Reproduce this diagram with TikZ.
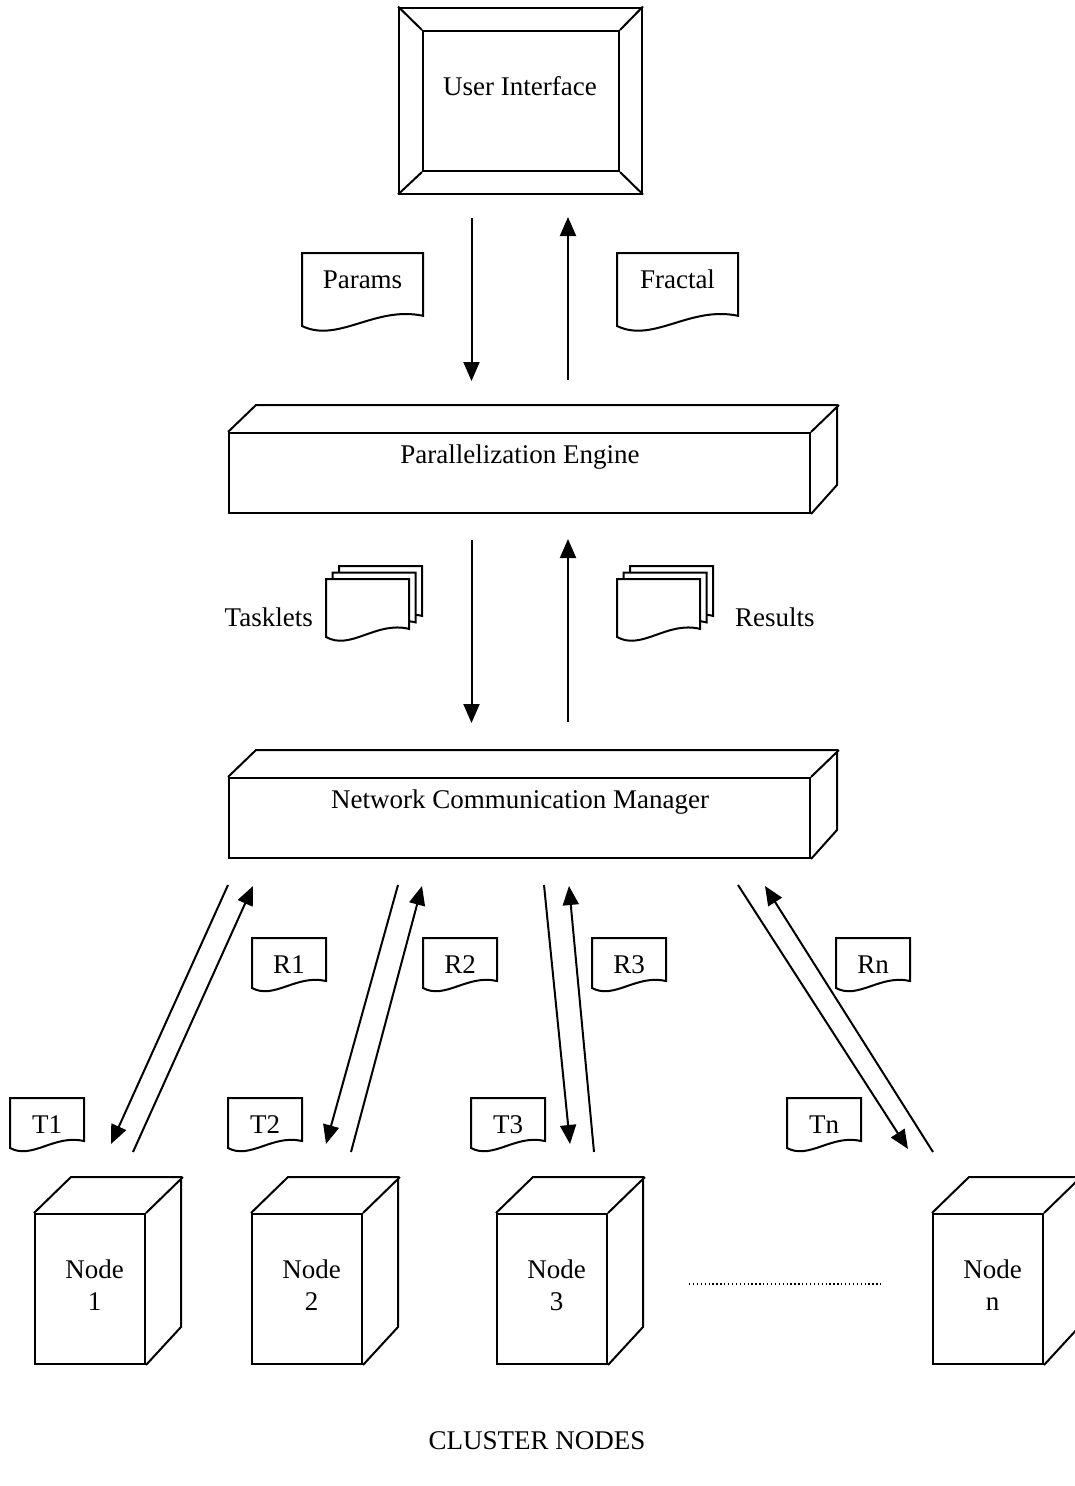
\documentclass[tikz,border=0pt]{standalone}
\usepackage{fontspec}
\setmainfont{Liberation Serif}
\usetikzlibrary{arrows.meta}
\tikzset{
  ln/.style={line width=2pt, line join=miter},
  box/.style={ln, draw, fill=white, inner sep=0pt, anchor=north west},
  lbl/.style={anchor=base, inner sep=0pt, font=\fontsize{27}{32}\selectfont},
  arr/.style={ln, -{Triangle[length=19pt,width=16pt]}},
  dotline/.style={line width=1.3pt, dash pattern=on 1.3pt off 2.6pt}
}
\newcommand\docum[6]{%
  \begin{scope}[shift={(#2,#3)}]
    \draw[ln, fill=white] (0,0) -- (#4,0) -- (#4,0.86*#5)
      .. controls (0.6*#4,0.72*#5) and (0.3*#4,1.24*#5) .. (0,#5) -- cycle;
  \end{scope}
  \ifx\relax#6\relax\else\node[lbl] (#1) at (#2+#4/2,#3+35) {#6};\fi
}
\newcommand\stackdoc[2]{%
  \docum{}{#1+13}{#2-13}{83}{58}{}%
  \docum{}{#1+6.5}{#2-6.5}{83}{58}{}%
  \docum{}{#1}{#2}{83}{58}{}%
}
\newcommand\cubenode[3]{%
  \node[box, minimum width=110, minimum height=150] (#1) at (#2,1213) {};
  \draw[ln] (#1.north west) -- ++(37,-36) -- ++(110,0) -- ++(0,150) -- (#1.south east);
  \draw[ln] (#1.north east) -- ++(37,-36);
  \node[lbl] (#1t) at (#2+60.5,1278) {Node};
  \node[lbl] (#1n) at (#2+60.5,1310) {#3};
}
\begin{document}
\begin{tikzpicture}[x=1pt,y=-1pt]
\useasboundingbox (0,0) rectangle (1074,1486);
\fill[white] (0,0) rectangle (1074,1486);

% User interface
\node[box, minimum width=243, minimum height=186] (ui) at (398,6.5) {};
\node[box, minimum width=196, minimum height=140] (uiin) at (422,30) {};
\draw[ln] (ui.north west) -- (uiin.north west);
\draw[ln] (ui.north east) -- (uiin.north east);
\draw[ln] (ui.south west) -- (uiin.south west);
\draw[ln] (ui.south east) -- (uiin.south east);
\node[lbl] (uit) at (520,95) {User Interface};

% documents Params / Fractal
\docum{params}{302}{253}{121}{73}{Params}
\docum{fractal}{617}{253}{121}{73}{Fractal}

% arrows UI <-> PE
\coordinate (p1) at (471.5,218); \coordinate (p2) at (471.5,381);
\coordinate (f1) at (568,380); \coordinate (f2) at (568,217);
\draw[arr] (p1) -- (p2);
\draw[arr] (f1) -- (f2);

% Parallelization engine
\node[box, minimum width=581, minimum height=80] (pe) at (228,432) {};
\draw[ln] (pe.north west) -- ++(28,-27) -- ++(581,0) -- ++(0,80) -- (pe.south east);
\draw[ln] (pe.north east) -- ++(28,-27);
\node[lbl] (pet) at (520,463) {Parallelization Engine};

% tasklets / results
\stackdoc{326}{579}
\node[lbl, anchor=base east] (tasklets) at (313,626) {Tasklets};
\stackdoc{617}{579}
\node[lbl, anchor=base west] (results) at (735,626) {Results};

\coordinate (t1) at (471.5,540); \coordinate (t2) at (471.5,723);
\coordinate (r1) at (568,722); \coordinate (r2) at (568,539);
\draw[arr] (t1) -- (t2);
\draw[arr] (r1) -- (r2);

% Network communication manager
\node[box, minimum width=581, minimum height=80] (ncm) at (228,777) {};
\draw[ln] (ncm.north west) -- ++(28,-27) -- ++(581,0) -- ++(0,80) -- (ncm.south east);
\draw[ln] (ncm.north east) -- ++(28,-27);
\node[lbl] (ncmt) at (520,808) {Network Communication Manager};

% R documents
\docum{rA}{252}{938}{74}{50}{R1}
\docum{rB}{423}{938}{74}{50}{R2}
\docum{rC}{592}{938}{74}{50}{R3}
\docum{rN}{836}{938}{74}{50}{Rn}
% T documents
\docum{tA}{10}{1098}{74}{50}{T1}
\docum{tB}{228}{1098}{74}{50}{T2}
\docum{tC}{471}{1098}{74}{50}{T3}
\docum{tN}{787}{1098}{74}{50}{Tn}

% arrows NCM <-> nodes
\coordinate (a1s) at (228,885); \coordinate (a1e) at (111,1144);
\coordinate (b1s) at (133,1152); \coordinate (b1e) at (253,886);
\coordinate (a2s) at (398,885); \coordinate (a2e) at (326,1144);
\coordinate (b2s) at (351,1152); \coordinate (b2e) at (422,886);
\coordinate (a3s) at (544,885); \coordinate (a3e) at (570,1144);
\coordinate (b3s) at (594,1152); \coordinate (b3e) at (569,886);
\coordinate (a4s) at (738,885); \coordinate (a4e) at (908,1149);
\coordinate (b4s) at (933,1152); \coordinate (b4e) at (765,886);
\foreach \i in {1,2,3,4}{
  \draw[arr] (a\i s) -- (a\i e);
  \draw[arr] (b\i s) -- (b\i e);
}

% cluster nodes
\cubenode{nA}{34}{1}
\cubenode{nB}{251}{2}
\cubenode{nC}{496}{3}
\cubenode{nN}{932}{n}
\coordinate (d1) at (689,1284); \coordinate (d2) at (883,1284);
\draw[dotline] (d1) -- (d2);

\node[lbl] (cluster) at (537,1449) {CLUSTER NODES};
\end{tikzpicture}
\end{document}
